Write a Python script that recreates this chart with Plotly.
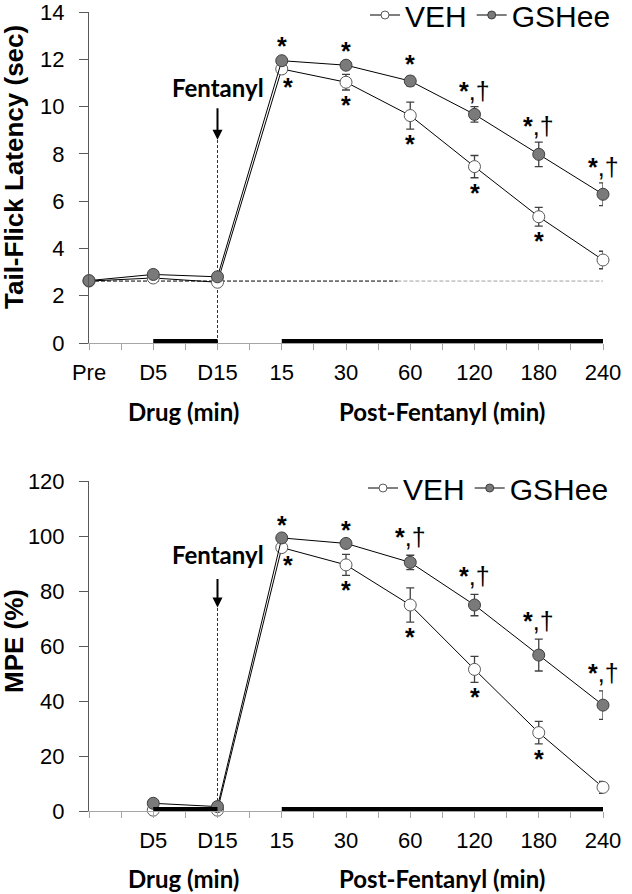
import plotly.graph_objects as go
from plotly.subplots import make_subplots

# ---------------- data ----------------
categories = ["Pre", "D5", "D15", "15", "30", "60", "120", "180", "240"]
top_ticktext = ["Pre", "D5", "D15", "15", "30", "60", "120", "180", "240"]
bottom_ticktext = ["", "D5", "D15", "15", "30", "60", "120", "180", "240"]

tf_veh = [2.62, 2.75, 2.57, 11.59, 11.03, 9.62, 7.46, 5.34, 3.51]
tf_veh_err = [0.08, 0.10, 0.10, 0.12, 0.33, 0.57, 0.47, 0.40, 0.37]
tf_gsh = [2.64, 2.90, 2.80, 11.94, 11.75, 11.08, 9.67, 7.98, 6.29]
tf_gsh_err = [0.08, 0.10, 0.10, 0.10, 0.10, 0.20, 0.33, 0.52, 0.48]

mpe_veh = [None, 0.3, 0.3, 95.8, 89.5, 74.9, 51.5, 28.5, 8.6]
mpe_veh_err = [None, 0.5, 0.5, 1.0, 3.8, 6.2, 4.7, 4.1, 2.2]
mpe_gsh = [None, 2.8, 1.6, 99.3, 97.3, 90.4, 74.9, 56.7, 38.5]
mpe_gsh_err = [None, 0.8, 0.8, 0.8, 1.0, 2.6, 3.9, 5.8, 5.2]

tf_sig_gsh = ["", "", "", "*", "*", "*", "*,†", "*,†", "*,†"]
tf_sig_veh = ["", "", "", "*", "*", "*", "*", "*", ""]
mpe_sig_gsh = ["", "", "", "*", "*", "*,†", "*,†", "*,†", "*,†"]
mpe_sig_veh = ["", "", "", "*", "*", "*", "*", "*", ""]

drug_period = ["D5", "D15"]
post_period = ["15", "240"]
injection = "D15"

# ---------------- geometry helpers ----------------
W, H = 632, 894
L, R, T, B = 89, 29, 12, 83
PW, PH = W - L - R, H - T - B


def px(x):
    return (x - L) / PW


def py(y):
    return (H - B - y) / PH


xs = list(range(len(categories)))
idx = {c: i for i, c in enumerate(categories)}

fig = make_subplots(rows=2, cols=1)

TXT = "Liberation Sans"
BOLD2 = "Lato"
VEH_FILL, VEH_LINE = "white", "#595959"
GSH_FILL, GSH_LINE = "#7a7a7a", "#3f3f3f"
ERR_COL = "#404040"


def add_series(row, y, err, fill, mline, name, legend):
    fig.add_trace(go.Scatter(
        x=xs, y=y, name=name, mode="lines+markers",
        line=dict(color="black", width=1),
        marker=dict(symbol="circle", size=12, color=fill,
                    line=dict(color=mline, width=1)),
        error_y=dict(type="data", array=err, visible=True,
                     color=ERR_COL, thickness=1.3, width=4),
        cliponaxis=False, showlegend=False,
    ), row=row, col=1)
    # legend entry (smaller symbol, as in the reference key)
    fig.add_trace(go.Scatter(
        x=[None], y=[None], name=name, mode="lines+markers",
        line=dict(color="black", width=1),
        marker=dict(symbol="circle", size=8, color=fill,
                    line=dict(color=mline, width=1)),
        legend=legend, showlegend=True,
    ), row=row, col=1)


add_series(1, tf_veh, tf_veh_err, VEH_FILL, VEH_LINE, "VEH", "legend")
add_series(1, tf_gsh, tf_gsh_err, GSH_FILL, GSH_LINE, "GSHee", "legend")
add_series(2, mpe_veh, mpe_veh_err, VEH_FILL, VEH_LINE, "VEH", "legend2")
add_series(2, mpe_gsh, mpe_gsh_err, GSH_FILL, GSH_LINE, "GSHee", "legend2")

# ---------------- axes ----------------
minor_vals = [i + 0.5 for i in xs[:-1]]
for r, tt in ((1, top_ticktext), (2, bottom_ticktext)):
    fig.update_xaxes(
        row=r, col=1, range=[0, len(categories) - 1],
        tickmode="array", tickvals=xs, ticktext=tt,
        ticks="outside", ticklen=6, tickcolor="#a6a6a6", tickwidth=1,
        minor=dict(tickmode="array", tickvals=minor_vals, ticks="outside",
                   ticklen=6, tickcolor="#a6a6a6", tickwidth=1),
        showline=True, linecolor="#a6a6a6", linewidth=1,
        showgrid=False, zeroline=False,
        tickfont=dict(family=TXT, size=22, color="black"),
        ticklabelstandoff=4, automargin=False, ticklabeloverflow="allow",
    )

fig.update_yaxes(row=1, col=1, range=[0, 14], dtick=2, tick0=0)
fig.update_yaxes(row=2, col=1, range=[0, 120], dtick=20, tick0=0)
fig.update_yaxes(
    ticks="outside", ticklen=9, tickcolor="#595959", tickwidth=1,
    showline=True, linecolor="#595959", linewidth=1,
    showgrid=False, zeroline=False,
    tickfont=dict(family=TXT, size=22, color="black"),
    ticklabelstandoff=10, automargin=False, ticklabeloverflow="allow",
)
fig.update_layout(
    xaxis=dict(domain=[0, 1]), xaxis2=dict(domain=[0, 1]),
    yaxis=dict(domain=[py(343), 1.0]),
    yaxis2=dict(domain=[0, py(481)]),
)

# ---------------- shapes ----------------
shapes = []
base = tf_veh[0]
shapes.append(dict(type="line", xref="x", yref="y", x0=0, x1=4.8, y0=base, y1=base,
                   line=dict(color="black", width=1, dash="4px,2px"), layer="below"))
shapes.append(dict(type="line", xref="x", yref="y", x0=4.8, x1=len(categories) - 1,
                   y0=base, y1=base,
                   line=dict(color="#a0a0a0", width=1, dash="4px,2px"), layer="below"))
for xr, yr, tip in (("x", "y", 8.6), ("x2", "y2", 74.0)):
    shapes.append(dict(type="line", xref=xr, yref=yr, x0=idx[injection], x1=idx[injection],
                       y0=0, y1=tip, line=dict(color="#333333", width=1, dash="3px,2px"),
                       layer="below"))
    for a, b in (drug_period, post_period):
        shapes.append(dict(type="rect", xref=xr, yref=yr, ysizemode="pixel", yanchor=0,
                           x0=idx[a], x1=idx[b], y0=0, y1=4,
                           fillcolor="black", line=dict(width=0)))
fig.update_layout(shapes=shapes)

# ---------------- annotations ----------------
ann = []
for xr, yr, tip, ftxt_y, ay in (("x", "y", 8.6, 10.8, -33), ("x2", "y2", 74.0, 93.1, -30)):
    ann.append(dict(xref=xr, yref=yr, x=idx[injection], y=tip, text="", showarrow=True,
                    ax=0, ay=ay, arrowhead=2, arrowsize=1, arrowwidth=2,
                    arrowcolor="black"))
    ann.append(dict(xref=xr, yref=yr, x=idx[injection], y=ftxt_y, text="<b>Fentanyl</b>",
                    showarrow=False, xanchor="center", yanchor="middle",
                    font=dict(family=BOLD2, size=24, color="black")))


def sig_text(s):
    return s.replace("*", "<b>*</b>")


def add_sig(xr, yr, g, ge, v, ve, gs, vs, top):
    for i in xs:
        if gs[i]:
            dag = "†" in gs[i]
            beyond = (18 if dag else 14) if top else (20 if dag else 13)
            ann.append(dict(xref=xr, yref=yr, x=i, y=g[i] + ge[i], text=sig_text(gs[i]),
                            showarrow=False, xanchor="center", yanchor="bottom",
                            yshift=beyond - 18,
                            font=dict(family=TXT, size=25, color="black")))
        if vs[i]:
            ann.append(dict(xref=xr, yref=yr, x=i, y=v[i] - ve[i], text=sig_text(vs[i]),
                            showarrow=False, xanchor="center", yanchor="top", yshift=1,
                            xshift=6 if i == idx["15"] else 0,
                            font=dict(family=TXT, size=25, color="black")))


add_sig("x", "y", tf_gsh, tf_gsh_err, tf_veh, tf_veh_err, tf_sig_gsh, tf_sig_veh, True)
add_sig("x2", "y2", mpe_gsh, mpe_gsh_err, mpe_veh, mpe_veh_err, mpe_sig_gsh, mpe_sig_veh, False)

# axis titles
ann.append(dict(xref="paper", yref="paper", x=px(14), y=py(167), text="<b>Tail-Flick Latency (sec)</b>",
                textangle=-90, showarrow=False, xanchor="center", yanchor="middle",
                font=dict(family=TXT, size=26, color="black")))
ann.append(dict(xref="paper", yref="paper", x=px(14), y=py(641), text="<b>MPE (%)</b>",
                textangle=-90, showarrow=False, xanchor="center", yanchor="middle",
                font=dict(family=TXT, size=26, color="black")))
for yy in (411, 878):
    ann.append(dict(xref="paper", yref="paper", x=px(183), y=py(yy), text="<b>Drug (min)</b>",
                    showarrow=False, xanchor="center", yanchor="middle",
                    font=dict(family=BOLD2, size=24, color="black")))
    ann.append(dict(xref="paper", yref="paper", x=px(442), y=py(yy), text="<b>Post-Fentanyl (min)</b>",
                    showarrow=False, xanchor="center", yanchor="middle",
                    font=dict(family=BOLD2, size=24, color="black")))
fig.update_layout(annotations=ann)

# ---------------- legends ----------------
leg = dict(orientation="h", xanchor="right", yanchor="middle", xref="container", yref="container",
           font=dict(family=TXT, size=30, color="black"),
           bgcolor="rgba(0,0,0,0)", borderwidth=0, itemwidth=30, tracegroupgap=0)
fig.update_layout(
    legend=dict(leg, x=616 / W, y=1 - 15 / H),
    legend2=dict(leg, x=614 / W, y=1 - 488 / H),
)

fig.update_layout(
    width=W, height=H, margin=dict(l=L, r=R, t=T, b=B, autoexpand=False),
    paper_bgcolor="white", plot_bgcolor="white",
)

fig.write_html("out.html", config={"displayModeBar": False},
               post_script="document.body.style.margin='0';document.body.style.overflow='hidden';")
